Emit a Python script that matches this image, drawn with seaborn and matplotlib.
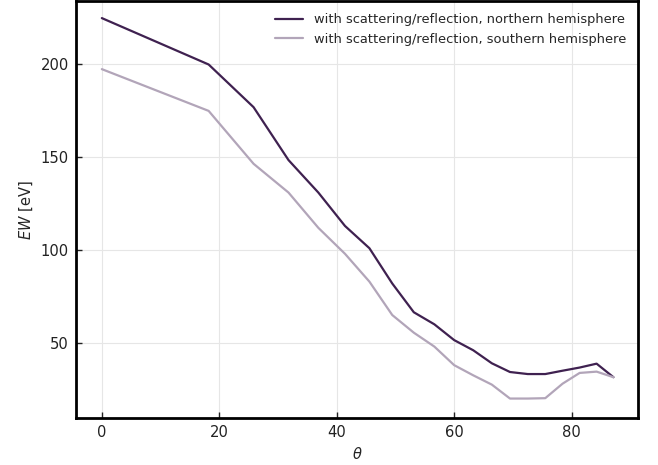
import matplotlib
matplotlib.use("Agg")
import matplotlib.pyplot as plt
import seaborn as sns
import pandas as pd

theta = [0.0, 18.19, 25.84, 31.79, 36.87, 41.41, 45.57, 49.46, 53.13, 56.63,
         60.0, 63.26, 66.42, 69.51, 72.54, 75.52, 78.46, 81.37, 84.26, 87.13]
ew_north = [225, 200, 177, 148.5, 131, 113, 101, 82, 66.5, 60,
            51.5, 46, 39, 34.3, 33.2, 33.2, 35, 36.7, 38.8, 31.5]
ew_south = [197.5, 175, 146.5, 131, 112, 98, 83, 65, 55.5, 48,
            38, 32.5, 27.5, 20, 20, 20.2, 28, 33.8, 34.5, 31.5]
labels = ["with scattering/reflection, northern hemisphere",
          "with scattering/reflection, southern hemisphere"]
colors = ["#3f2150", "#b2a5b9"]

df = pd.concat([
    pd.DataFrame({"theta": theta, "EW": ew_north, "series": labels[0]}),
    pd.DataFrame({"theta": theta, "EW": ew_south, "series": labels[1]}),
])

sns.set_style("white")
fig = plt.figure(figsize=(6.58, 4.65), dpi=100)
ax = fig.add_axes([0.1155, 0.101, 0.854, 0.896])
sns.lineplot(data=df, x="theta", y="EW", hue="series", palette=colors,
             linewidth=1.6, ax=ax, sort=False)
ax.set_xlim(-4.4, 91.3)
ax.set_ylim(9.5, 234)
ax.set_xticks([0, 20, 40, 60, 80])
ax.set_yticks([50, 100, 150, 200])
ax.grid(True, color="#e6e6e6", linewidth=0.8)
for s in ax.spines.values():
    s.set_linewidth(2)
    s.set_color("black")
ax.tick_params(direction="in", length=4, width=1, labelsize=10.6, colors="#222222",
               left=True, bottom=True, pad=5)
ax.set_xlabel(r"$\theta$", fontsize=10.5)
ax.set_ylabel(r"$EW$ [eV]", fontsize=10.5)
leg = ax.legend(loc="upper right", frameon=False, fontsize=9.4, title=None,
                handlelength=2.2, handletextpad=0.8, borderaxespad=0.5,
                labelspacing=0.5)
fig.savefig("out.png", dpi=100)
